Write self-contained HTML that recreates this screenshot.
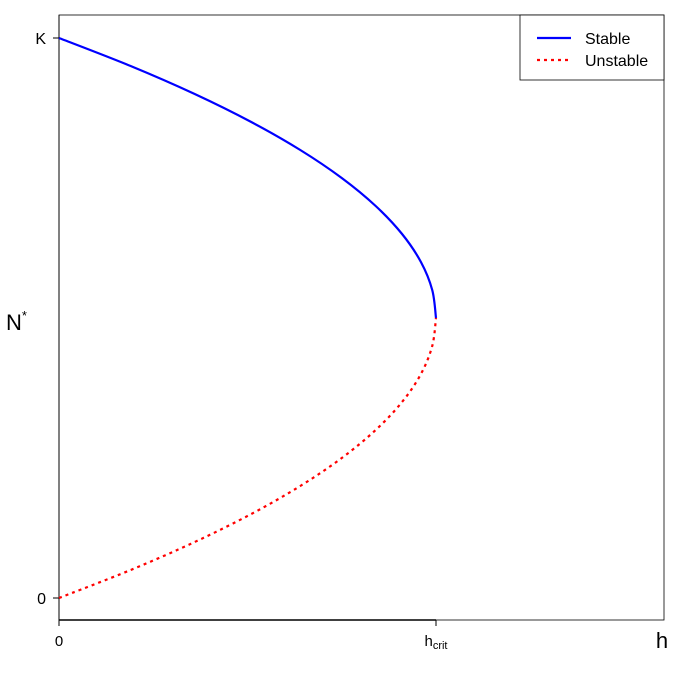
<!DOCTYPE html>
<html><head><meta charset="utf-8"><style>
body{margin:0;background:#fff}
text{font-family:"Liberation Sans",sans-serif;fill:#000}
</style></head><body>
<svg width="680" height="680" xmlns="http://www.w3.org/2000/svg">
<rect x="59" y="15" width="605" height="605" fill="none" stroke="#000" stroke-width="0.8"/>
<line x1="59" y1="620" x2="436" y2="620" stroke="#000" stroke-width="1.5"/>
<line x1="59" y1="15" x2="59" y2="620" stroke="#000" stroke-width="1"/>
<g id="ticks"></g>
<path id="stable" fill="none" stroke="#0000ff" stroke-width="2.2"/>
<path id="unstable" fill="none" stroke="#ff0000" stroke-width="2.2" stroke-dasharray="3,4"/>
<text x="662" y="648" font-size="22" text-anchor="middle">h</text>
<text x="6" y="330" font-size="22">N<tspan font-size="13" dy="-10">*</tspan></text>
<g>
<rect x="520" y="15" width="144" height="65" fill="#fff" stroke="#000" stroke-width="0.8"/>
<line x1="537" y1="38" x2="571" y2="38" stroke="#0000ff" stroke-width="2.2"/>
<text x="585" y="44" font-size="16">Stable</text>
<line x1="537" y1="60" x2="571" y2="60" stroke="#ff0000" stroke-width="2.2" stroke-dasharray="3,4"/>
<text x="585" y="66" font-size="16">Unstable</text>
</g>
</svg>
<script>
const hStable=[1,0.99,0.96,0.91,0.84,0.75,0.64,0.51,0.36,0.19,0];
const nStable=[0.5,0.55,0.6,0.65,0.7,0.75,0.8,0.85,0.9,0.95,1];
const hUnstable=[0,0.19,0.36,0.51,0.64,0.75,0.84,0.91,0.96,0.99,1];
const nUnstable=[0,0.05,0.1,0.15,0.2,0.25,0.3,0.35,0.4,0.45,0.5];
const xTicks=[0,1];const xTickLabels=["0","h_crit"];
const yTicks=[0,1];const yTickLabels=["0","K"];
const xs=h=>59+h*377, ys=n=>598-n*560;
function smooth(hx,ny){
  // sample via Catmull-Rom through points
  const p=hx.map((h,i)=>[xs(h),ys(ny[i])]);
  let d='M'+p[0][0]+','+p[0][1];
  for(let i=0;i<p.length-1;i++){
    const p0=p[Math.max(0,i-1)],p1=p[i],p2=p[i+1],p3=p[Math.min(p.length-1,i+2)];
    const c1=[p1[0]+(p2[0]-p0[0])/6,p1[1]+(p2[1]-p0[1])/6];
    const c2=[p2[0]-(p3[0]-p1[0])/6,p2[1]-(p3[1]-p1[1])/6];
    d+=' C'+c1+' '+c2+' '+p2;
  }
  return d;
}
document.getElementById('stable').setAttribute('d',smooth(hStable,nStable));
document.getElementById('unstable').setAttribute('d',smooth(hUnstable,nUnstable));
const g=document.getElementById('ticks');const NS='http://www.w3.org/2000/svg';
xTicks.forEach((t,i)=>{
  const l=document.createElementNS(NS,'line');
  
  
  l.setAttribute('x1',xs(t));l.setAttribute('x2',xs(t));l.setAttribute('y1',620);l.setAttribute('y2',626);l.setAttribute('stroke','#000');
  g.appendChild(l);
  const tx=document.createElementNS(NS,'text');
  
  
  tx.setAttribute('x',xs(t));tx.setAttribute('y',646);tx.setAttribute('font-size','15');tx.setAttribute('text-anchor','middle');
  const lab=xTickLabels[i];
  if(lab.includes('_')){const [a,b]=lab.split('_');tx.textContent=a;const s=document.createElementNS(NS,'tspan');s.setAttribute('font-size','11');s.setAttribute('dy','3');s.textContent=b;tx.appendChild(s);}
  else tx.textContent=lab;
  g.appendChild(tx);
});
yTicks.forEach((t,i)=>{
  const l=document.createElementNS(NS,'line');
  
  
  l.setAttribute('x1',53);l.setAttribute('x2',59);l.setAttribute('y1',ys(t));l.setAttribute('y2',ys(t));l.setAttribute('stroke','#000');
  g.appendChild(l);
  const tx=document.createElementNS(NS,'text');
  
  
  tx.setAttribute('x',46);tx.setAttribute('y',ys(t)+6);tx.setAttribute('font-size','16');tx.setAttribute('text-anchor','end');
  tx.textContent=yTickLabels[i];
  g.appendChild(tx);
});
</script>
</body></html>
